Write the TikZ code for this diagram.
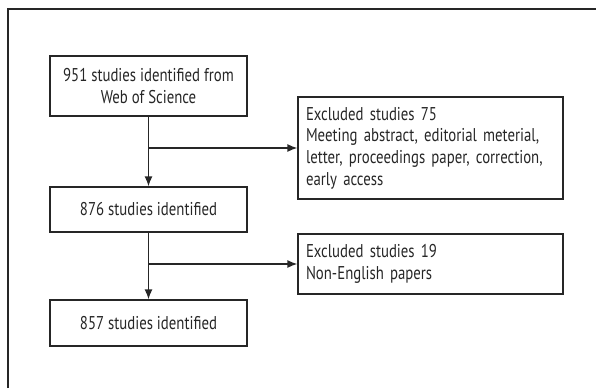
\documentclass[tikz,border=0pt]{standalone}
\usepackage{fontspec}
\setmainfont[FakeStretch=0.8]{PT Sans}
\usepackage{tikz}
\usetikzlibrary{arrows.meta,calc,positioning,shapes}
\tikzset{%
	study/.style    = {draw, rectangle, minimum width=197pt, align=center, inner sep=0pt},
	excluded/.style = {draw, rectangle, text width=249pt, inner xsep=8pt, inner ysep=0pt, align=left},
	arrow/.style    = {line width=1.3pt,-{Latex[length=10pt,width=8pt]}},
}

\begin{document}
\begin{tikzpicture}[x=1pt,y=-1pt,line width=1.3pt,color=black!85,font=\fontsize{18.5}{21.7}\selectfont]
		\useasboundingbox (0,0) rectangle (596,388);
		\draw (8,388) -- (8,9) -- (596,9);
		\node[study, minimum height=60pt] (s951) at (148.5,86) {951 studies identified from\\Web of Science};
		\node[study, minimum height=45pt] (s876) at (148.5,209.5) {876 studies identified};
		\node[study, minimum height=46pt] (s857) at (148.5,323) {857 studies identified};
		\node[excluded, minimum height=102pt] (ex75) at (430.5,148) {Excluded studies 75\\Meeting abstract, editorial meterial,\\letter, proceedings paper, correction,\\early access};
		\node[excluded, minimum height=60pt] (ex19) at (430.5,264) {Excluded studies 19\\Non-English papers};
		\coordinate (b1) at (s951.south |- ex75.west);
		\coordinate (b2) at (s876.south |- ex19.west);
		\draw[arrow] (s951) -- (s876);
		\draw[arrow] (b1) -- (ex75);
		\draw[arrow] (s876) -- (s857);
		\draw[arrow] (b2) -- (ex19);
	\end{tikzpicture}
\end{document}
